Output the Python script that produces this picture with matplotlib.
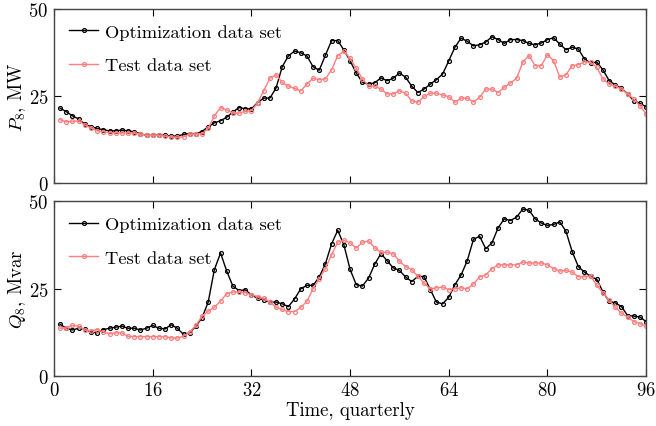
import matplotlib
matplotlib.use('Agg')
import matplotlib.pyplot as plt

plt.rcParams['font.family'] = ['cmr10', 'DejaVu Serif']
plt.rcParams['mathtext.fontset'] = 'cm'
plt.rcParams['axes.formatter.use_mathtext'] = True
plt.rcParams['font.size'] = 13.5

quarters = list(range(1, 97))

p_opt = [21.6, 20.6, 19.4, 18.5, 17.0, 16.3, 15.8, 15.4, 15.1, 15.1,
         15.3, 15.1, 14.8, 14.3, 13.8, 13.8, 13.9, 13.8, 13.6, 13.6,
         14.1, 14.3, 14.3, 14.9, 16.3, 17.4, 18.0, 19.0, 20.5, 21.8,
         21.4, 21.4, 23.2, 24.5, 24.5, 27.4, 33.5, 36.6, 38.0, 37.5,
         36.6, 33.5, 32.5, 36.8, 41.0, 41.0, 38.3, 35.2, 31.7, 29.0,
         28.5, 28.9, 30.3, 29.5, 30.2, 31.7, 30.5, 27.9, 26.1, 27.1,
         28.5, 29.8, 31.4, 35.2, 39.1, 41.7, 40.8, 39.5, 39.8, 40.6,
         42.1, 41.3, 40.2, 41.3, 41.3, 41.0, 40.2, 39.8, 40.3, 41.3,
         41.8, 40.0, 38.4, 39.1, 38.6, 35.7, 34.6, 34.8, 32.6, 29.5,
         28.3, 27.3, 25.7, 23.7, 23.0, 22.0]

p_test = [18.3, 17.7, 17.8, 18.0, 16.8, 15.9, 15.1, 14.9, 14.6, 14.5,
          14.5, 14.5, 14.5, 14.2, 13.8, 13.8, 13.8, 13.6, 13.4, 13.2,
          13.4, 14.2, 14.2, 14.2, 15.8, 19.4, 21.8, 21.1, 20.2, 20.2,
          20.7, 20.9, 23.1, 26.6, 30.2, 31.2, 29.0, 27.9, 27.3, 26.6,
          28.5, 30.2, 29.8, 30.0, 32.6, 36.7, 37.9, 35.9, 33.0, 30.0,
          28.0, 27.9, 27.1, 25.7, 25.7, 26.6, 25.9, 23.7, 23.3, 25.0,
          25.9, 25.9, 25.4, 24.9, 23.3, 24.5, 24.5, 23.4, 24.7, 27.1,
          27.1, 26.1, 27.6, 28.8, 30.2, 34.8, 36.7, 33.8, 33.8, 37.0,
          35.2, 30.5, 31.2, 33.8, 34.1, 34.9, 34.8, 33.3, 30.0, 28.5,
          27.9, 27.1, 25.7, 24.2, 22.3, 19.9]

q_opt = [14.7, 13.6, 13.1, 13.6, 13.4, 12.5, 12.3, 13.2, 13.6, 13.9,
         14.2, 13.6, 13.6, 13.1, 13.6, 14.4, 13.6, 13.4, 14.6, 13.6,
         11.8, 12.3, 14.2, 16.6, 21.1, 30.4, 35.2, 30.0, 25.7, 24.4,
         24.6, 23.2, 22.2, 21.8, 21.1, 21.1, 20.6, 19.8, 22.0, 24.9,
         25.9, 25.9, 28.3, 32.1, 37.8, 41.7, 37.5, 30.5, 26.1, 25.7,
         28.0, 32.0, 35.0, 33.0, 30.9, 30.2, 28.3, 27.0, 28.5, 28.4,
         24.7, 21.1, 20.6, 22.5, 26.1, 28.9, 33.0, 39.1, 40.0, 36.4,
         38.1, 42.4, 45.0, 44.5, 45.5, 47.8, 47.5, 45.0, 43.8, 43.1,
         43.4, 44.1, 41.4, 35.6, 31.3, 29.7, 28.5, 27.6, 24.0, 21.3,
         20.9, 19.8, 17.2, 17.1, 16.8, 15.5]

q_test = [13.6, 13.6, 14.4, 14.2, 13.1, 12.9, 13.2, 12.5, 12.0, 12.3,
          12.3, 11.3, 11.2, 11.2, 11.2, 11.2, 11.2, 11.2, 10.8, 10.8,
          11.3, 12.5, 14.4, 17.0, 18.5, 19.6, 21.4, 23.5, 24.0, 24.0,
          23.8, 23.2, 22.7, 22.2, 21.1, 19.6, 19.0, 18.4, 18.4, 19.6,
          21.3, 24.9, 27.8, 30.7, 34.7, 38.3, 38.8, 38.1, 36.6, 38.3,
          38.6, 36.7, 35.4, 35.4, 35.0, 32.8, 31.3, 30.4, 28.5, 26.5,
          24.9, 25.2, 25.4, 24.7, 24.9, 25.2, 24.9, 26.3, 28.3, 28.9,
          30.7, 31.8, 31.8, 31.8, 31.8, 32.6, 32.3, 32.4, 32.3, 31.8,
          30.7, 30.0, 30.2, 29.7, 28.4, 28.4, 28.5, 25.9, 23.8, 21.6,
          19.6, 17.9, 16.8, 15.5, 14.9, 14.2]

black = 'black'
pink = '#ff7f7f'

fig = plt.figure(figsize=(6.56, 4.27), dpi=100)
ax1 = fig.add_axes([0.0823, 0.568, 0.9027, 0.408])
ax2 = fig.add_axes([0.0823, 0.118, 0.9027, 0.408])

for ax, opt, test, ylab in [(ax1, p_opt, p_test, '$P_8$, MW'),
                            (ax2, q_opt, q_test, '$Q_8$, Mvar')]:
    ax.plot(quarters, opt, color=black, lw=1.0, marker='o', ms=2.8,
            mfc='none', mew=0.9, label='Optimization data set')
    ax.plot(quarters, test, color=pink, lw=1.0, marker='o', ms=2.8,
            mfc='none', mew=0.9, label='Test data set')
    ax.set_xlim(0, 96)
    ax.set_ylim(0, 50)
    ax.set_xticks(range(0, 97, 16))
    ax.set_yticks([0, 25, 50])
    ax.set_ylabel(ylab, labelpad=0)
    ax.tick_params(direction='in', top=True, right=True, length=5, width=0.8,
                   pad=4)
    for s in ax.spines.values():
        s.set_color('#444444')
        s.set_linewidth(1.0)
    ax.legend(loc='upper left', frameon=False, fontsize=13.3,
              handlelength=1.6, labelspacing=0.95, borderaxespad=0.4,
              handletextpad=0.35)

ax1.tick_params(labelbottom=False)
ax2.set_xlabel('Time, quarterly', labelpad=1)

fig.savefig('out.png', dpi=100)
